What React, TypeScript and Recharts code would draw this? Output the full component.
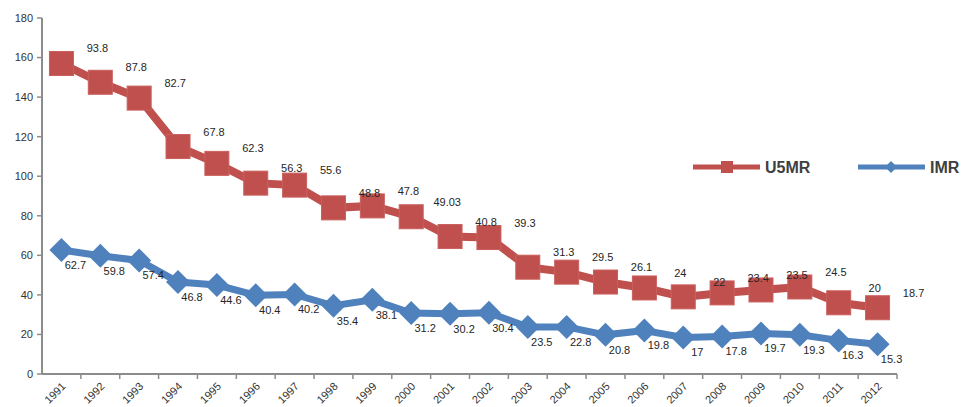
import React from 'react';
import { LineChart, Line, XAxis, YAxis, LabelList } from 'recharts';

const years = ['1991','1992','1993','1994','1995','1996','1997','1998','1999','2000','2001','2002','2003','2004','2005','2006','2007','2008','2009','2010','2011','2012'];
const u5mr = [157, 147.5, 139.5, 115, 106.5, 96.5, 95.5, 84, 85, 79.5, 69.5, 69, 54, 51.5, 46.5, 43.5, 39, 41, 42.5, 44, 36, 33.5];
const imr = [62.7, 59.8, 57.4, 46.5, 45, 39.8, 40.2, 34.5, 37.5, 30.8, 30.5, 31, 23.8, 23.8, 19.8, 22, 18.5, 19, 20.5, 19.8, 17, 15];
const u5mrLabels = ['93.8','87.8','82.7','67.8','62.3','56.3','55.6','48.8','47.8','49.03','40.8','39.3','31.3','29.5','26.1','24','22','23.4','23.5','24.5','20','18.7'];
const imrLabels = ['62.7','59.8','57.4','46.8','44.6','40.4','40.2','35.4','38.1','31.2','30.2','30.4','23.5','22.8','20.8','19.8','17','17.8','19.7','19.3','16.3','15.3'];
const yTicks = [0, 20, 40, 60, 80, 100, 120, 140, 160, 180];
const seriesNames = ['U5MR', 'IMR'];

const data = years.map((year, i) => ({
  year,
  U5MR: u5mr[i],
  IMR: imr[i],
  u5Label: u5mrLabels[i],
  imLabel: imrLabels[i],
}));

const RED = '#C0504D';
const BLUE = '#4F81BD';
const AXIS = '#8c8c8c';
const FONT = '"Liberation Sans", Arial, sans-serif';
const HALF_BAND = 19.43;

const SquareDot = (props: any) => {
  const { cx, cy, index } = props;
  if (cx == null || cy == null) return <g key={`s${index}`} />;
  return <rect key={`s${index}`} x={cx - 12} y={cy - 12} width={24} height={24} fill={RED} stroke="#c9605d" strokeWidth={1} />;
};

const DiamondDot = (props: any) => {
  const { cx, cy, index } = props;
  if (cx == null || cy == null) return <g key={`d${index}`} />;
  const r = 12;
  return <polygon key={`d${index}`} points={`${cx},${cy - r} ${cx + r},${cy} ${cx},${cy + r} ${cx - r},${cy}`} fill={BLUE} />;
};

const XTick = (props: any) => {
  const { x, y, payload } = props;
  return (
    <g>
      <line x1={x + HALF_BAND} x2={x + HALF_BAND} y1={y - 5} y2={y} stroke={AXIS} strokeWidth={1.5} />
      <text
        transform={`translate(${x + 5},${y + 8}) rotate(-45)`}
        textAnchor="end"
        fontSize={11}
        fontFamily={FONT}
        fill="#333"
      >
        {payload.value}
      </text>
    </g>
  );
};

const u5LabelContent = (p: any) => {
  const x = p.x ?? p.viewBox?.x;
  const y = p.y ?? p.viewBox?.y;
  if (x == null || y == null) return null;
  return (
    <text x={x + 36} y={y - 11} textAnchor="middle" fontSize={11} fontFamily={FONT} fill="#262626">
      {p.value}
    </text>
  );
};

const imLabelContent = (p: any) => {
  const x = p.x ?? p.viewBox?.x;
  const y = p.y ?? p.viewBox?.y;
  if (x == null || y == null) return null;
  return (
    <text x={x + 14} y={y + 19} textAnchor="middle" fontSize={11} fontFamily={FONT} fill="#262626">
      {p.value}
    </text>
  );
};

const LegendOverlay = () => (
  <svg width={275} height={26} style={{ position: 'absolute', left: 690, top: 155, overflow: 'visible' }}>
    <line x1={3} x2={70} y1={12} y2={12} stroke={RED} strokeWidth={5} />
    <rect x={31} y={6} width={12} height={12} fill={RED} />
    <text x={75} y={18} fontSize={16} fontWeight="bold" fontFamily={FONT} fill="#404040">{seriesNames[0]}</text>
    <line x1={168} x2={235} y1={12} y2={12} stroke={BLUE} strokeWidth={5} />
    <polygon points="201,6 207,12 201,18 195,12" fill={BLUE} />
    <text x={240} y={18} fontSize={16} fontWeight="bold" fontFamily={FONT} fill="#404040">{seriesNames[1]}</text>
  </svg>
);

export default function App() {
  return (
    <div style={{ position: 'absolute', left: 0, top: 0, width: 962, height: 407, background: '#fff', overflow: 'hidden' }}>
      <LineChart width={962} height={407} data={data} margin={{ top: 18, right: 65, left: 0, bottom: 0 }}>
        <XAxis
          dataKey="year"
          height={33}
          padding={{ left: HALF_BAND, right: HALF_BAND }}
          axisLine={{ stroke: AXIS, strokeWidth: 2 }}
          tickLine={false}
          tickSize={5}
          tickMargin={0}
          interval={0}
          tick={<XTick />}
        />
        <YAxis
          width={42}
          domain={[0, 180]}
          ticks={yTicks}
          interval={0}
          axisLine={{ stroke: AXIS, strokeWidth: 2 }}
          tickLine={{ stroke: AXIS, strokeWidth: 1.5 }}
          tickSize={5}
          tickMargin={4}
          tick={{ fontSize: 11, fontFamily: FONT, fill: '#333' }}
        />
        <Line
          type="linear"
          dataKey={seriesNames[0]}
          stroke={RED}
          strokeWidth={8}
          dot={SquareDot}
          activeDot={false}
          isAnimationActive={false}
        >
          <LabelList dataKey="u5Label" content={u5LabelContent} />
        </Line>
        <Line
          type="linear"
          dataKey={seriesNames[1]}
          stroke={BLUE}
          strokeWidth={7}
          dot={DiamondDot}
          activeDot={false}
          isAnimationActive={false}
        >
          <LabelList dataKey="imLabel" content={imLabelContent} />
        </Line>
      </LineChart>
      <LegendOverlay />
    </div>
  );
}
